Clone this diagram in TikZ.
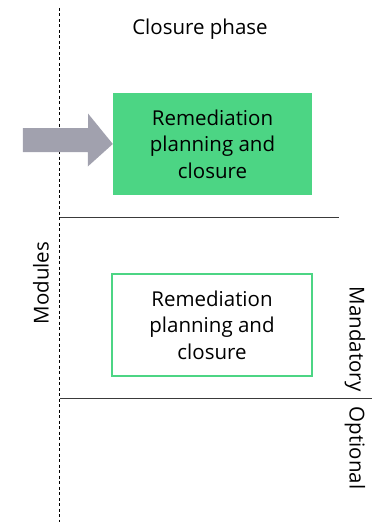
\documentclass[tikz,border=0pt]{standalone}
\usepackage{fontspec}
\setmainfont{Open Sans}
\usetikzlibrary{shapes.arrows}
\definecolor{phasegreen}{HTML}{4CD584}
\definecolor{arrowgray}{HTML}{A1A1AE}
\definecolor{rulegray}{HTML}{3A3A3A}
\tikzset{
  x=1pt, y=-1pt,
  boxtext/.style={align=center, font=\fontsize{20.5}{26.5}\selectfont, text=black},
  lbl/.style={font=\fontsize{20.5}{24}\selectfont, inner sep=0pt},
  rule/.style={draw=rulegray, line width=1pt},
}
\begin{document}
\begin{tikzpicture}
\useasboundingbox (0,0) rectangle (384,524);
% module axis
\coordinate (axtop) at (59.5,8);
\coordinate (axbot) at (59.5,522);
\draw[black, line width=1pt, dash pattern=on 3pt off 2.5pt] (axtop) -- (axbot);
% separators
\coordinate (sepAl) at (60,217.5);
\coordinate (sepAr) at (339,217.5);
\coordinate (sepBl) at (60,398);
\coordinate (sepBr) at (372,398);
\draw[rule] (sepAl) -- (sepAr);
\draw[rule] (sepBl) -- (sepBr);
% header
\node[lbl, anchor=center] (phase) at (200,29) {Closure phase};
% phase box
\node[fill=phasegreen, minimum width=199pt, minimum height=102pt, inner sep=0pt, boxtext] (phasebox) at (212.5,144) {Remediation\\planning and\\closure};
% entry arrow
\coordinate (arrtail) at (23,136.5);
\fill[arrowgray] (arrtail) ++(0,-8.5) -- ++(65,0) -- ++(0,-14.5) -- (phasebox.west) -- ++(-25,22.5) -- ++(0,-14.5) -- ++(-65,0) -- cycle;
% module box
\node[draw=phasegreen, line width=2.2pt, fill=white, minimum width=200pt, minimum height=102pt, inner sep=0pt, boxtext] (modbox) at (212,325) {Remediation\\planning and\\closure};
% side labels
\node[lbl, rotate=90] (modules) at (41,283) {Modules};
\node[lbl, rotate=-90] (mand) at (355,339) {Mandatory};
\node[lbl, rotate=-90] (opt) at (355,448) {Optional};
\end{tikzpicture}
\end{document}
